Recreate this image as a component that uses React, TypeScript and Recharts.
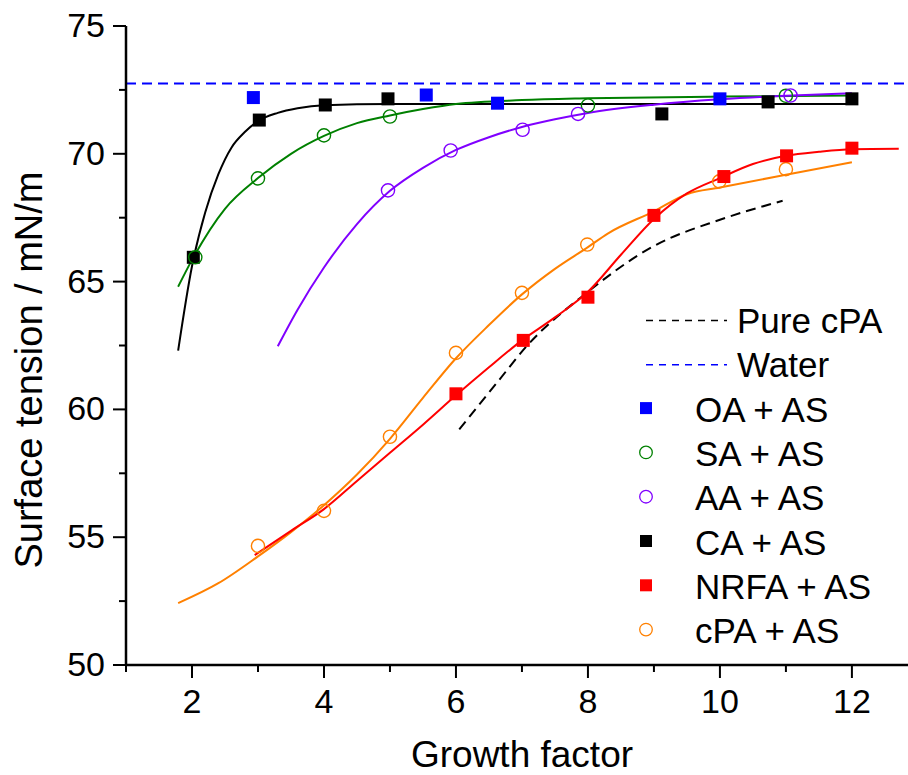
import { ComposedChart, Legend, Line, ReferenceLine, Scatter, XAxis, YAxis } from 'recharts'

const FONT = '"Liberation Sans", Arial, Helvetica, sans-serif'

// axis ranges and ticks
const X_DOMAIN = [1, 12.85]
const Y_DOMAIN = [50, 75]
const xTicks = [1, 2, 3, 4, 5, 6, 7, 8, 9, 10, 11, 12]
const xLabelTicks = [2, 4, 6, 8, 10, 12]
const yTicks = [50, 52.5, 55, 57.5, 60, 62.5, 65, 67.5, 70, 72.5, 75]
const yLabelTicks = [50, 55, 60, 65, 70, 75]

const WATER = 72.75

// measured surface tensions
const oaX = [2.93, 5.55, 6.63, 10.0]
const oaY = [72.2, 72.3, 71.98, 72.15]
const caX = [2.02, 3.02, 4.02, 4.97, 9.12, 10.73, 12.0]
const caY = [65.95, 71.32, 71.91, 72.15, 71.56, 72.03, 72.15]
const saX = [2.05, 3.0, 4.0, 5.0, 8.0, 11.0]
const saY = [65.95, 69.04, 70.72, 71.46, 71.89, 72.27]
const aaX = [4.97, 5.92, 7.01, 7.85, 11.07]
const aaY = [68.57, 70.13, 70.94, 71.56, 72.28]
const nrfaX = [6.0, 7.02, 8.0, 9.0, 10.06, 11.01, 12.0]
const nrfaY = [60.61, 62.7, 64.39, 67.59, 69.11, 69.92, 70.22]
const cpaX = [3.0, 4.0, 5.0, 6.0, 7.0, 7.99, 9.99, 11.0]
const cpaY = [54.66, 56.03, 58.93, 62.21, 64.56, 66.45, 68.92, 69.4]

// fitted curves
const caFitX = [1.79, 2.0, 2.2, 2.4, 2.6, 2.8, 3.0, 3.3, 3.6, 4.0, 5.0, 7.0, 9.0, 12.0]
const caFitY = [62.3, 65.6, 67.7, 69.2, 70.25, 70.85, 71.28, 71.6, 71.78, 71.9, 71.95, 71.95, 71.95, 71.95]
const saFitX = [1.79, 2.0, 2.5, 3.0, 3.5, 4.0, 4.5, 5.0, 5.5, 6.0, 7.0, 8.0, 10.0, 12.0]
const saFitY = [64.8, 65.85, 67.85, 69.05, 70.0, 70.7, 71.2, 71.5, 71.75, 71.95, 72.1, 72.17, 72.24, 72.28]
const aaFitX = [3.3, 3.6, 4.0, 4.5, 5.0, 5.5, 6.0, 6.5, 7.0, 7.5, 8.0, 9.0, 10.0, 11.0, 12.0]
const aaFitY = [62.47, 63.9, 65.55, 67.25, 68.55, 69.45, 70.15, 70.65, 71.05, 71.35, 71.6, 71.92, 72.13, 72.27, 72.37]
const nrfaFitX = [2.95, 3.5, 4.0, 4.5, 5.0, 5.5, 6.0, 6.5, 7.0, 7.5, 8.0, 8.5, 9.0, 9.5, 10.0, 10.5, 11.0, 11.5, 12.0, 12.71]
const nrfaFitY = [54.3, 55.25, 56.1, 57.2, 58.3, 59.4, 60.55, 61.65, 62.7, 63.6, 64.6, 66.05, 67.45, 68.45, 69.05, 69.6, 69.92, 70.08, 70.18, 70.2]
const cpaFitX = [1.79, 2.4, 3.0, 3.5, 4.0, 4.5, 5.0, 5.5, 6.0, 6.5, 7.0, 7.5, 8.0, 8.3, 9.0, 9.5, 10.0, 11.0, 12.0]
const cpaFitY = [52.42, 53.2, 54.25, 55.2, 56.25, 57.45, 58.85, 60.45, 62.0, 63.3, 64.5, 65.5, 66.35, 66.88, 67.75, 68.42, 68.68, 69.18, 69.67]
const pureCpaX = [6.05, 6.62, 7.07, 7.98, 8.99, 10.0, 10.95]
const pureCpaY = [59.22, 61.04, 62.47, 64.56, 66.38, 67.42, 68.16]

const toPoints = (xs: number[], ys: number[]) => xs.map((x, i) => ({ x, y: ys[i] }))

type MarkerKind = 'square' | 'circle'

const markers = [
  { name: 'OA + AS', color: '#0000ff', kind: 'square' as MarkerKind, data: toPoints(oaX, oaY) },
  { name: 'SA + AS', color: '#008000', kind: 'circle' as MarkerKind, data: toPoints(saX, saY) },
  { name: 'AA + AS', color: '#8000ff', kind: 'circle' as MarkerKind, data: toPoints(aaX, aaY) },
  { name: 'CA + AS', color: '#000000', kind: 'square' as MarkerKind, data: toPoints(caX, caY) },
  { name: 'NRFA + AS', color: '#ff0000', kind: 'square' as MarkerKind, data: toPoints(nrfaX, nrfaY) },
  { name: 'cPA + AS', color: '#ff8000', kind: 'circle' as MarkerKind, data: toPoints(cpaX, cpaY) }
]
// squares first so the open circles sit on top of them
const drawOrder = ['OA + AS', 'CA + AS', 'SA + AS', 'AA + AS', 'cPA + AS', 'NRFA + AS']

const fits = [
  { key: 'caFit', color: '#000000', data: toPoints(caFitX, caFitY) },
  { key: 'saFit', color: '#008000', data: toPoints(saFitX, saFitY) },
  { key: 'aaFit', color: '#8000ff', data: toPoints(aaFitX, aaFitY) },
  { key: 'cpaFit', color: '#ff8000', data: toPoints(cpaFitX, cpaFitY) },
  { key: 'nrfaFit', color: '#ff0000', data: toPoints(nrfaFitX, nrfaFitY) }
]

const legendLines = [
  { name: 'Pure cPA', color: '#000000' },
  { name: 'Water', color: '#0000ff' }
]

function markerShape(kind: MarkerKind, color: string, half: number) {
  return (props: any) => {
    const { cx, cy } = props
    if (kind === 'square') {
      return <rect x={cx - half} y={cy - half} width={half * 2} height={half * 2} fill={color} />
    }
    return <circle cx={cx} cy={cy} r={half} fill="none" stroke={color} strokeWidth={1.4} />
  }
}

function BottomTick(props: any) {
  const { x, y, payload } = props
  const major = xLabelTicks.includes(payload.value)
  const len = major ? 13 : 7
  return (
    <g>
      <line x1={x} x2={x} y1={y} y2={y + len} stroke="#000" strokeWidth={2} />
      {major && (
        <text x={x} y={y + 48} textAnchor="middle" fontSize={34} fontFamily={FONT} fill="#000">
          {payload.value}
        </text>
      )}
    </g>
  )
}

function TopTick(props: any) {
  const { x, y } = props
  return <line x1={x} x2={x} y1={y} y2={y + 5} stroke="#000" strokeWidth={2} />
}

function LeftTick(props: any) {
  const { x, y, payload } = props
  const major = yLabelTicks.includes(payload.value)
  const len = major ? 13 : 7
  return (
    <g>
      <line x1={x - len} x2={x} y1={y} y2={y} stroke="#000" strokeWidth={2} />
      {major && (
        <text x={x - len - 8} y={y + 11} textAnchor="end" fontSize={34} fontFamily={FONT} fill="#000">
          {payload.value}
        </text>
      )}
    </g>
  )
}

const xTitle = () => (
  <text x={522} y={767} textAnchor="middle" fontSize={37} fontFamily={FONT} fill="#000">
    Growth factor
  </text>
)

const yTitle = () => (
  <text
    x={42}
    y={370}
    transform="rotate(-90, 42, 370)"
    textAnchor="middle"
    fontSize={38}
    fontFamily={FONT}
    fill="#000"
  >
    Surface tension / mN/m
  </text>
)

function LegendBox() {
  const rowStep = 44.3
  const firstBaseline = 38
  const symbolX = 16
  return (
    <svg width={278} height={360} style={{ display: 'block', overflow: 'visible' }}>
      {legendLines.map((item, i) => {
        const base = firstBaseline + i * rowStep
        return (
          <g key={item.name}>
            <line
              x1={16}
              x2={97}
              y1={base - 12.5}
              y2={base - 12.5}
              stroke={item.color}
              strokeWidth={1.6}
              strokeDasharray="7 6"
            />
            <text x={107} y={base} fontSize={35} fontFamily={FONT} fill="#000">
              {item.name}
            </text>
          </g>
        )
      })}
      {markers.map((m, i) => {
        const base = firstBaseline + (i + legendLines.length) * rowStep
        const cy = base - 13.5
        return (
          <g key={m.name}>
            {m.kind === 'square' ? (
              <rect x={symbolX - 6} y={cy - 6} width={12} height={12} fill={m.color} />
            ) : (
              <circle cx={symbolX} cy={cy} r={6.3} fill="none" stroke={m.color} strokeWidth={1.3} />
            )}
            <text x={65} y={base} fontSize={35} fontFamily={FONT} fill="#000">
              {m.name}
            </text>
          </g>
        )
      })}
    </svg>
  )
}

export default function App() {
  const ordered = drawOrder.map(n => markers.find(m => m.name === n)!)
  return (
    <div style={{ position: 'absolute', left: 0, top: 0, width: 908, height: 775, background: '#fff', fontFamily: FONT }}>
      <ComposedChart width={908} height={775} margin={{ top: 26, right: 0, bottom: 0, left: 0 }}>
        <XAxis
          dataKey="x"
          type="number"
          domain={X_DOMAIN}
          ticks={xTicks}
          interval={0}
          allowDataOverflow
          height={110}
          tickSize={0}
          tickMargin={0}
          tickLine={false}
          axisLine={{ stroke: '#000', strokeWidth: 2.5 }}
          tick={<BottomTick />}
          label={xTitle}
        />
        <XAxis
          xAxisId="top"
          orientation="top"
          dataKey="x"
          type="number"
          domain={X_DOMAIN}
          ticks={xTicks}
          interval={0}
          allowDataOverflow
          height={0}
          tickSize={0}
          tickMargin={0}
          tickLine={false}
          axisLine={{ stroke: '#000', strokeWidth: 2.5 }}
          tick={<TopTick />}
        />
        <YAxis
          dataKey="y"
          type="number"
          domain={Y_DOMAIN}
          ticks={yTicks}
          interval={0}
          allowDataOverflow
          width={126}
          tickSize={0}
          tickMargin={0}
          tickLine={false}
          axisLine={{ stroke: '#000', strokeWidth: 2.5 }}
          tick={<LeftTick />}
          label={yTitle}
        />
        <ReferenceLine y={WATER} stroke="#0000ff" strokeWidth={2} strokeDasharray="10 6" />
        <Line
          data={toPoints(pureCpaX, pureCpaY)}
          dataKey="y"
          type="monotone"
          stroke="#000"
          strokeWidth={2}
          strokeDasharray="10 6"
          dot={false}
          activeDot={false}
          isAnimationActive={false}
        />
        {fits.map(f => (
          <Line
            key={f.key}
            data={f.data}
            dataKey="y"
            type="monotone"
            stroke={f.color}
            strokeWidth={2}
            dot={false}
            activeDot={false}
            isAnimationActive={false}
          />
        ))}
        {ordered.map(m => (
          <Scatter
            key={m.name}
            name={m.name}
            data={m.data}
            dataKey="y"
            fill={m.color}
            shape={markerShape(m.kind, m.color, m.kind === 'square' ? 6.5 : 6.6)}
            isAnimationActive={false}
          />
        ))}
        <Legend
          layout="vertical"
          align="center"
          verticalAlign="middle"
          wrapperStyle={{ left: 630, top: 295, width: 278, height: 360 }}
          content={() => <LegendBox />}
        />
      </ComposedChart>
    </div>
  )
}
